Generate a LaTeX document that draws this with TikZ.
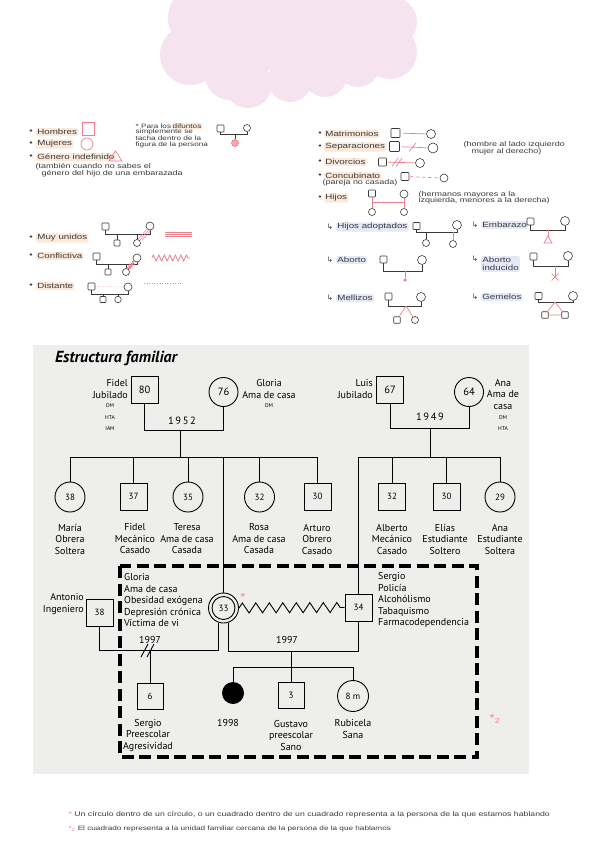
\documentclass[tikz,border=0pt]{standalone}
\usepackage{fontspec}
\setmainfont{PT Sans}
\newfontfamily\hand[FakeStretch=1.3]{Liberation Sans}
\newfontfamily\dv{DejaVu Sans}
\usetikzlibrary{decorations.pathmorphing}
\definecolor{cloudc}{HTML}{F5E4EF}
\definecolor{pk}{HTML}{EF7F8C}
\definecolor{hlbg}{HTML}{FCE9D9}
\definecolor{hlblue}{HTML}{E5E9F7}
\definecolor{bgc}{HTML}{EEEEEC}
\definecolor{ink}{HTML}{3A3A3A}
\begin{document}
\begin{tikzpicture}[x=1pt,y=-1pt,
  hand/.style={font=\hand\fontsize{7.5}{8}\selectfont, text=ink, inner sep=0.6pt},
  hands/.style={font=\hand\fontsize{6.9}{7.5}\selectfont, text=ink, inner sep=0.4pt},
  handn/.style={font=\hand\fontsize{6.3}{7}\selectfont, text=ink, inner sep=0.4pt},
  hlt/.style={hand, fill=hlbg, rounded corners=2pt, inner sep=1.2pt},
  hlbl/.style={hand, fill=hlblue, rounded corners=2pt, inner sep=1.2pt},
  lsq/.style={draw=ink, line width=0.6pt, minimum size=7pt, inner sep=0, rounded corners=0.8pt},
  lci/.style={circle, draw=ink, line width=0.6pt, minimum size=8pt, inner sep=0},
  ln/.style={draw=ink, line width=0.6pt},
  pkl/.style={draw=pk, line width=0.7pt},
  tsq/.style={draw, line width=0.9pt, minimum size=27pt, inner sep=0, font=\fontsize{10.5}{12}\selectfont},
  tci/.style={circle, draw, line width=0.9pt, minimum size=29pt, inner sep=0, font=\fontsize{10.5}{12}\selectfont},
  gnum/.style={font=\fontsize{9}{10}\selectfont},
  tl/.style={draw, line width=0.9pt},
  tt/.style={font=\fontsize{10}{11.5}\selectfont, align=center, inner sep=0},
  ts/.style={font=\fontsize{5.5}{6}\selectfont, inner sep=0},
]
\useasboundingbox (0,0) rectangle (599,848);
\fill[white] (0,0) rectangle (599,848);

% ---------- cloud ----------
\fill[cloudc] (175,0) rectangle (405,70)
  (200,18) circle[radius=32pt] (190,55) circle[radius=30pt]
  (230,75) circle[radius=25pt] (248,84) circle[radius=24pt]
  (290,80) circle[radius=22pt] (325,75) circle[radius=22pt]
  (358,65) circle[radius=22pt] (390,52) circle[radius=27pt]
  (392,22) circle[radius=25pt];

% ---------- legend 1 ----------
\node[hand] at (31,132) {•};
\node[hlt, anchor=west] at (36,132) {Hombres};
\node[draw=pk, line width=0.7pt, minimum size=12.5pt, inner sep=0] at (88.5,129) {};
\node[hand] at (31,144) {•};
\node[hlt, anchor=west] at (36,144) {Mujeres};
\node[circle, draw=pk, line width=0.7pt, minimum size=12pt, inner sep=0] at (87,144) {};
\node[hand] at (31,157) {•};
\node[hlt, anchor=west] at (36,157) {Género indefinido};
\draw[pk, line width=0.7pt] (109,161) -- (115.5,151) -- (122,161) -- cycle;
\node[hands, anchor=west] at (35,167) {(también cuando no sabes el};
\node[hands, anchor=west] at (41,174) {género del hijo de una embarazada};

\node[handn, anchor=west] (n1) at (135,126) {* Para los};
\node[handn, fill=hlbg, rounded corners=1.5pt, anchor=west, inner sep=0.8pt] at (n1.east) {difuntos};
\node[handn, anchor=west] at (135,132) {simplemente se};
\node[handn, anchor=west] at (135,138) {tacha dentro de la};
\node[handn, anchor=west] at (135,144.5) {figura de la persona};
\node[lsq] (dsq) at (220.5,128.5) {};
\node[lci, minimum size=7pt] (dci) at (247,128) {};
\coordinate (dm) at (235,134);
\draw[ln] (dsq) -- (dsq |- dm) -- (dci |- dm) -- (dci);
\node[circle, draw=pk, fill=pk!70, line width=0.6pt, minimum size=7pt, inner sep=0] (dch) at (235,143) {};
\draw[ln] (dm) -- (dch);

% ---------- legend 2 ----------
\node[hand] at (320,134) {•};
\node[hlt, anchor=west] at (324,134) {Matrimonios};
\node[lsq, minimum size=9pt] (ma1) at (395.5,133) {};
\node[lci, minimum size=9pt] (ma2) at (431,134) {};
\draw[pkl, shorten <=3pt, shorten >=1pt] (ma1) -- (ma2);
\node[hand] at (320,147) {•};
\node[hlt, anchor=west] at (324,147) {Separaciones};
\node[lsq, minimum size=10pt] (se1) at (394.5,146.5) {};
\node[lci, minimum size=10pt] (se2) at (433,148) {};
\draw[pkl, shorten <=2pt, shorten >=1pt] (se1) -- (se2);
\draw[pkl] (409,151.5) -- (416,143);
\node[hand] at (320,162) {•};
\node[hlt, anchor=west] at (324,162) {Divorcios};
\node[lsq, minimum size=8pt] (di1) at (382.5,162) {};
\node[lci, minimum size=9pt] (di2) at (420,163) {};
\draw[pkl, shorten <=1pt, shorten >=1pt] (di1) -- (di2);
\draw[pkl] (392,166.5) -- (398,158) (396,166.5) -- (402,158);
\node[hand] at (320,176) {•};
\node[hlt, anchor=west] at (324,176) {Concubinato};
\node[lsq, minimum size=8pt] (co1) at (405,176.5) {};
\node[lci, minimum size=8pt] (co2) at (444,178) {};
\draw[pkl, dashed, shorten <=1pt, shorten >=1pt] (co1) -- (co2);
\node[hands, anchor=west] at (322,183) {(pareja no casada)};
\node[hand] at (320,198) {•};
\node[hlt, anchor=west] at (324,198) {Hijos};
\node[lsq] (hi1) at (372,193.5) {};
\node[lci] (hi2) at (404,194) {};
\node[lci, minimum size=7pt] (hk1) at (372,212) {};
\node[lci, minimum size=7pt] (hk2) at (404,212) {};
\draw[pkl] (hi1) -- (hk1) (hi2) -- (hk2);
\draw[pkl] (372,202) -- (404,202);
\node[hands, anchor=west] at (418,195) {(hermanos mayores a la};
\node[hands, anchor=west] at (418,201) {izquierda, menores a la derecha)};
\node[hands, anchor=west] at (463,145) {(hombre al lado izquierdo};
\node[hands, anchor=west] at (471,152) {mujer al derecho)};

% ---------- legend 3 ----------
\node[hand] at (31,238) {•};
\node[hlt, anchor=west] at (36,238) {Muy unidos};
\node[lsq] (mus) at (105.5,226.5) {};
\node[lci] (muc) at (150,226) {};
\coordinate (mu) at (128,234);
\draw[ln] (mus) -- (mus |- mu) -- (muc |- mu) -- (muc);
\node[lsq, minimum size=6pt] (mk1) at (117,243) {};
\node[lci, minimum size=7pt] (mk2) at (137,243) {};
\draw[ln] (mk1 |- mu) -- (mk1) (mk2 |- mu) -- (mk2);
\draw[pkl, line width=0.5pt] (138,239.5) -- (146.5,229.5) (140,240) -- (148.5,230) (142,240.5) -- (150.5,230.5);
\draw[pkl, line width=0.5pt] (165,232.3) -- (192,232.3) (165,234.3) -- (192,234.3) (165,236.3) -- (192,236.3);

\node[hand] at (31,256) {•};
\node[hlt, anchor=west] at (36,256) {Conflictiva};
\node[lsq] (cs) at (96.5,256.5) {};
\node[lci] (cc) at (137,258) {};
\coordinate (cm) at (115,264);
\draw[ln] (cs) -- (cs |- cm) -- (cc |- cm) -- (cc);
\node[lsq, minimum size=6pt] (ck1) at (108,272) {};
\node[lci, minimum size=7pt] (ck2) at (126,272) {};
\draw[ln] (ck1 |- cm) -- (ck1) (ck2 |- cm) -- (ck2);
\draw[pk, line width=1pt, decorate, decoration={zigzag, segment length=2pt, amplitude=1.2pt}] (ck2) -- (cc);
\draw[pk, line width=0.8pt, decorate, decoration={zigzag, segment length=5.5pt, amplitude=3pt}] (152,258) -- (190,258);

\node[hand] at (31,286) {•};
\node[hlt, anchor=west] at (36,286) {Distante};
\node[lsq] (ds) at (91.5,286.5) {};
\node[lci] (dc) at (128,287) {};
\coordinate (dmm) at (110,294);
\draw[ln] (ds) -- (ds |- dmm) -- (dc |- dmm) -- (dc);
\node[lsq, minimum size=6pt] (dk1) at (103,299.5) {};
\node[lci, minimum size=6.5pt] (dk2) at (118,299.5) {};
\draw[ln] (dk1 |- dmm) -- (dk1) (dk2 |- dmm) -- (dk2);
\draw[pk, line width=0.6pt, dotted] (ds.east) -- (dc.west);
\draw[pk, line width=0.6pt, dotted] (144,283) -- (183,283);

% ---------- legend 4 ----------
\node[hand] at (330,227) {\dv ↳};
\node[hlbl, anchor=west] at (336,227) {Hijos adoptados};
\node[lsq] (as) at (416.5,226) {};
\node[lci, minimum size=9pt] (ac) at (457,225) {};
\coordinate (am) at (436,232);
\draw[ln] (as) -- (as |- am) -- (ac |- am) -- (ac);
\node[lci, minimum size=7pt] (ak1) at (426,243) {};
\node[lci, minimum size=7pt] (ak2) at (453,244) {};
\draw[ln] (ak1 |- am) -- (ak1);
\draw[pkl] (ak2 |- am) -- (ak2);

\node[hand] at (475,225) {\dv ↳};
\node[hlbl, anchor=west] at (481,225) {Embarazo};
\node[lsq] (es) at (530.5,221.5) {};
\node[lci, minimum size=9pt] (ec) at (565,221) {};
\coordinate (em) at (548,230);
\draw[ln] (es) -- (es |- em) -- (ec |- em) -- (ec);
\coordinate (et) at (548,236);
\draw[pkl] (em) -- (et);
\draw[pkl] (et) -- (552,243) -- (544,243) -- cycle;

\node[hand] at (330,260) {\dv ↳};
\node[hlbl, anchor=west] at (336,260) {Aborto};
\node[lsq] (bs) at (383.5,259.5) {};
\node[lci, minimum size=9pt] (bc) at (422,260) {};
\coordinate (bm) at (405,271);
\draw[ln] (bs) -- (bs |- bm) -- (bc |- bm) -- (bc);
\node[circle, fill=pk, minimum size=3.5pt, inner sep=0] (bd) at (405,280) {};
\draw[pkl] (bm) -- (bd);

\node[hand] at (475,259) {\dv ↳};
\node[hlbl, anchor=west, align=left, font=\hand\fontsize{7.5}{8}\selectfont] at (481,264) {Aborto\\inducido};
\node[lsq] (is) at (533.5,256.5) {};
\node[lci, minimum size=9pt] (ic) at (568,256) {};
\coordinate (im) at (555,266);
\draw[ln] (is) -- (is |- im) -- (ic |- im) -- (ic);
\coordinate (ix) at (555,277);
\draw[pkl] (im) -- (ix);
\draw[pkl] (551.5,273.5) -- (558.5,280.5) (551.5,280.5) -- (558.5,273.5);

\node[hand] at (330,298) {\dv ↳};
\node[hlbl, anchor=west] at (336,298) {Mellizos};
\node[lsq] (ms) at (388.5,296.5) {};
\node[lci, minimum size=9pt] (mc) at (421,297) {};
\coordinate (mm) at (406,306);
\draw[ln] (ms) -- (ms |- mm) -- (mc |- mm) -- (mc);
\node[lsq, minimum size=6.5pt] (mk3) at (397,320) {};
\node[lci, minimum size=7pt] (mk4) at (415,320) {};
\draw[pkl] (mm) -- (mk3) (mm) -- (mk4);

\node[hand] at (475,297) {\dv ↳};
\node[hlbl, anchor=west] at (481,297) {Gemelos};
\node[lsq] (gs) at (538.5,296) {};
\node[lci, minimum size=9pt] (gc) at (573,296) {};
\coordinate (gm) at (555,302);
\draw[ln] (gs) -- (gs |- gm) -- (gc |- gm) -- (gc);
\node[lsq, minimum size=6.5pt] (gk1) at (545,315) {};
\node[lsq, minimum size=6.5pt] (gk2) at (565,315) {};
\draw[pkl] (gm) -- (gk1) (gm) -- (gk2) (gk1) -- (gk2);

% ---------- family tree ----------
\fill[bgc] (33,345) rectangle (529,774);
\node[font=\bfseries\itshape\fontsize{16}{17}\selectfont, anchor=west, inner sep=0] at (55,358) {Estructura familiar};

\node[tsq] (fid) at (144.5,389.5) {80};
\node[tci] (glo) at (223.5,392) {76};
\node[tsq] (lui) at (390,389.5) {67};
\node[tci] (ana) at (469,392) {64};
\coordinate (m52) at (180,430);
\coordinate (m49) at (430,428);
\draw[tl] (fid) -- (fid |- m52) -- (glo |- m52) -- (glo);
\draw[tl] (lui) -- (lui |- m49) -- (ana |- m49) -- (ana);
\coordinate (b1) at (180,457);
\coordinate (b2) at (430,457);
\draw[tl] (m52) -- (b1);
\draw[tl] (m49) -- (b2);

\node[tt, align=right, anchor=east] at (128,389) {Fidel\\Jubilado};
\node[ts] at (110,406) {DM};
\node[ts] at (110,417.5) {HTA};
\node[ts] at (110,429) {IAM};
\node[tt] at (269,389) {Gloria\\Ama de casa};
\node[ts] at (269,406) {DM};
\node[tt, align=right, anchor=east] at (373,389) {Luis\\Jubilado};
\node[tt] at (503,394.5) {Ana\\Ama de\\casa};
\node[ts] at (503,417.5) {DM};
\node[ts] at (503,429) {HTA};
\node[tt, font=\fontsize{10.5}{12}\selectfont\addfontfeatures{LetterSpace=15}] at (182,421) {1952};
\node[tt, font=\fontsize{10.5}{12}\selectfont\addfontfeatures{LetterSpace=15}] at (430,417) {1949};

\node[tci, gnum, minimum size=30pt] (mar) at (70,497) {38};
\node[tsq, gnum] (fi2) at (133.5,496.5) {37};
\node[tci, gnum, minimum size=30pt] (ter) at (188,497) {35};
\node[tci, gnum, minimum size=30pt] (ros) at (259.5,497) {32};
\node[tsq, gnum] (art) at (317.5,496.5) {30};
\node[tsq, gnum] (alb) at (392,496.5) {32};
\node[tsq, gnum] (eli) at (446.5,496.5) {30};
\node[tci, gnum, minimum size=30pt] (an2) at (500,497) {29};

\node[tci, gnum, minimum size=30pt] (g33) at (223.5,608) {33};
\draw[line width=0.9pt] (g33.center) circle[radius=11.5pt];
\node[tsq, gnum] (ser) at (358.5,607.5) {34};
\node[tsq, gnum] (ant) at (99.5,612.5) {38};

\draw[tl] (mar |- b1) -- (art |- b1);
\foreach \n in {mar,fi2,ter,ros,art} \draw[tl] (\n |- b1) -- (\n);
\draw[tl] (g33 |- b1) -- (g33);
\draw[tl] (ser |- b2) -- (an2 |- b2);
\foreach \n in {alb,eli,an2} \draw[tl] (\n |- b2) -- (\n);
\draw[tl] (ser |- b2) -- (ser);

\node[tt] at (70,539) {María\\Obrera\\Soltera};
\node[tt] at (135,539) {Fidel\\Mecánico\\Casado};
\node[tt] at (187,539) {Teresa\\Ama de casa\\Casada};
\node[tt] at (259,539) {Rosa\\Ama de casa\\Casada};
\node[tt] at (317,539) {Arturo\\Obrero\\Casado};
\node[tt] at (392,539) {Alberto\\Mecánico\\Casado};
\node[tt] at (445,539) {Elías\\Estudiante\\Soltero};
\node[tt] at (500,539) {Ana\\Estudiante\\Soltera};

\draw[line width=3.5pt, dash pattern=on 12pt off 5.5pt] (120,566) rectangle (477,757);

\node[tt, align=right, anchor=east] at (84,604) {Antonio\\Ingeniero};
\node[tt, align=left, anchor=west] at (124,600) {Gloria\\Ama de casa\\Obesidad exógena\\Depresión crónica\\Víctima de vi};
\node[tt, align=left, anchor=west] at (378,600) {Sergio\\Policía\\Alcohólismo\\Tabaquismo\\Farmacodependencia};

\draw[tl, decorate, decoration={zigzag, segment length=13.5pt, amplitude=5pt}] (g33.east) -- (ser.west);

\coordinate (m97a) at (150,650);
\coordinate (m97b) at (291,651);
\draw[tl] (ant) -- (ant |- m97a) -- (g33.-110 |- m97a) -- (g33.-110);
\draw[tl] (g33.-70) -- (g33.-70 |- m97b) -- (ser |- m97b) -- (ser);
\draw[tl] (141,657) -- (148,644) (147,657) -- (154,644);
\node[tt] at (150,640) {1997};
\node[tt] at (287,640) {1997};

\node[tsq, gnum, minimum size=26pt] (s6) at (150,696) {6};
\draw[tl] (m97a) -- (s6);
\coordinate (b3) at (291,667);
\draw[tl] (m97b) -- (b3);
\node[circle, fill=black, minimum size=22pt, inner sep=0] (bab) at (233,693) {};
\node[tsq, gnum, minimum size=26pt] (s3) at (291,695) {3};
\node[tci, gnum, minimum size=31pt] (rub) at (353,696) {8 m};
\draw[tl] (bab |- b3) -- (rub |- b3);
\foreach \n in {bab,s3,rub} \draw[tl] (\n |- b3) -- (\n);

\node[tt] at (148,735) {Sergio\\Preescolar\\Agresividad};
\node[tt] at (228,723) {1998};
\node[tt] at (291,735) {Gustavo\\preescolar\\Sano};
\node[tt] at (353,729) {Rubicela\\Sana};

\node[text=pk, font=\hand\fontsize{10}{10}\selectfont, inner sep=0] at (243,597) {*};
\node[text=pk, font=\hand\fontsize{10}{10}\selectfont, inner sep=0] at (495,719) {*\textsubscript{2}};

% ---------- footnotes ----------
\node[handn, font=\hand\fontsize{6.7}{7}\selectfont, anchor=west] at (68,815) {\textcolor{pk}{*} Un círculo dentro de un círculo, o un cuadrado dentro de un cuadrado representa a la persona de la que estamos hablando};
\node[handn, anchor=west] at (68,829) {\textcolor{pk}{*\textsubscript{2}} El cuadrado representa a la unidad familiar cercana de la persona de la que hablamos};
\end{tikzpicture}
\end{document}
